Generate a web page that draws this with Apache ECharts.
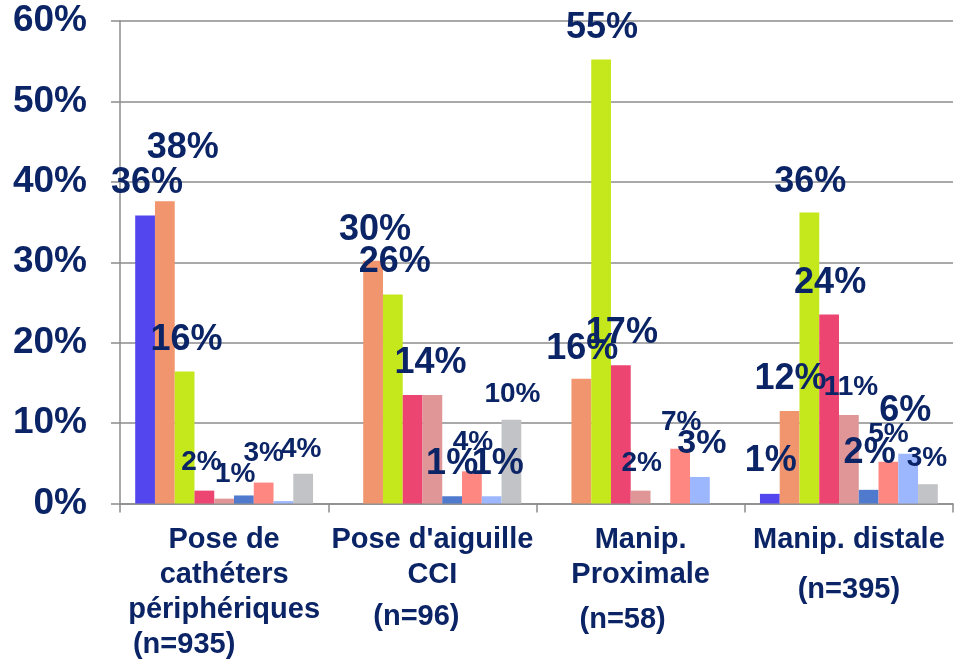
<!DOCTYPE html>
<html><head><meta charset="utf-8">
<script src="https://cdn.jsdelivr.net/npm/echarts@6/dist/echarts.min.js"></script>
<style>html,body{margin:0;padding:0;background:#fff}#c{width:963px;height:666px}</style>
</head><body><div id="c"></div>
<script>
const categories = ["Pose de cathéters périphériques", "Pose d'aiguille CCI", "Manip. Proximale", "Manip. distale"];
const sampleSizes = ["(n=935)", "(n=96)", "(n=58)", "(n=395)"];
const yTicks = [0, 10, 20, 30, 40, 50, 60];
// values (%) per series (9 series, one per bar colour), per category
const s1 = [35.8, 0, 0, 1.2];
const s2 = [37.6, 30.2, 15.5, 11.5];
const s3 = [16.4, 26.0, 55.2, 36.2];
const s4 = [1.6, 13.5, 17.2, 23.5];
const s5 = [0.6, 13.5, 1.6, 11.0];
const s6 = [1.0, 0.9, 0, 1.7];
const s7 = [2.6, 4.0, 6.8, 5.2];
const s8 = [0.3, 0.9, 3.3, 6.2];
const s9 = [3.7, 10.4, 0, 2.4];
// displayed data labels (null = no label shown)
const l1 = ["36%", null, null, "1%"];
const l2 = ["38%", "30%", "16%", "12%"];
const l3 = ["16%", "26%", "55%", "36%"];
const l4 = ["2%", "14%", "17%", "24%"];
const l5 = ["1%", null, "2%", "11%"];
const l6 = [null, "1%", null, "2%"];
const l7 = ["3%", "4%", "7%", "5%"];
const l8 = [null, "1%", "3%", "6%"];
const l9 = ["4%", "10%", null, "3%"];

const seriesValues = [s1, s2, s3, s4, s5, s6, s7, s8, s9];
const seriesLabels = [l1, l2, l3, l4, l5, l6, l7, l8, l9];
const colors = ['#5346EE', '#F0956E', '#C4E81C', '#EC4572', '#E09696', '#4F7ACD', '#FF8781', '#9DB7FF', '#C2C3C6'];
const navy = '#0B2466';
const FONT = '"Liberation Sans", Arial, sans-serif';

// label placement tweaks (layout only): key "series-category" -> [dx, dy, fontSize]
const labelTweak = {
  '0-0': [2, -33, 36], '1-0': [18, -53, 36], '2-0': [2, -32, 36], '3-0': [-3, -28, 28],
  '4-0': [11, -24, 28], '6-0': [0, -29, 28], '8-0': [-2, -24, 28],
  '1-1': [2, -31, 36], '2-1': [2, -32, 36], '3-1': [18, -32, 36], '5-1': [0, -32, 36],
  '6-1': [1, -29, 28], '7-1': [6, -32, 36], '8-1': [1, -26, 28],
  '2-2': [1, -32, 36], '1-2': [1, -30, 36], '3-2': [1, -32, 36], '4-2': [1, -27, 28],
  '6-2': [1, -27, 28], '7-2': [2, -33, 34],
  '0-3': [1, -33, 36], '1-3': [1, -32, 36], '2-3': [1, -30, 36], '3-3': [1, -31, 36],
  '4-3': [2, -28, 28], '5-3': [1, -37, 36], '6-3': [0, -27, 28], '7-3': [-3, -43, 36], '8-3': [-1, -26, 28]
};
const BAR_W = 19.78;

// category label styling: x shift of the sample-size line and its line height
const nShift = [-40, -16, -18, 0];
const nLineH = [35, 49, 55, 65];
const richStyles = {t: {fontFamily: FONT, fontWeight: 'bold', fontSize: 29, color: navy, lineHeight: 35}};
const catLines = [
  ["Pose de", "cathéters", "périphériques"],
  ["Pose d'aiguille", "CCI"],
  ["Manip.", "Proximale"],
  ["Manip. distale"]
];
catLines.forEach((_, i) => {
  const sh = nShift[i];
  richStyles['n' + i] = {fontFamily: FONT, fontWeight: 'bold', fontSize: 29, color: navy, lineHeight: nLineH[i],
    padding: sh < 0 ? [0, -2 * sh, 0, 0] : [0, 0, 0, 2 * sh]};
});

const chart = echarts.init(document.getElementById('c'), null, {renderer: 'canvas'});
const series = seriesValues.map((vals, si) => ({
  type: 'bar',
  data: vals.map((v, ci) => {
    const txt = seriesLabels[si][ci];
    const tw = labelTweak[si + '-' + ci] || [0, -30, 36];
    return {
      value: v,
      label: {show: txt !== null, formatter: txt || '',
        position: [(50 + tw[0] * 100 / BAR_W) + '%', tw[1]], fontSize: tw[2]}
    };
  }),
  barGap: '0%',
  barCategoryGap: '14.6%',
  itemStyle: {color: colors[si]},
  label: {align: 'center', verticalAlign: 'middle',
    color: navy, fontFamily: FONT, fontWeight: 'bold', fontSize: 36},
  labelLayout: {hideOverlap: false}
}));

chart.setOption({
  animation: false,
  grid: {left: 120, right: 10, top: 21, bottom: 162.5},
  xAxis: {
    type: 'category', data: categories,
    axisLine: {lineStyle: {color: '#8c8c8c', width: 1.5}},
    axisTick: {show: true, length: 9, lineStyle: {color: '#8c8c8c', width: 1.5}},
    axisLabel: {
      interval: 0, margin: 19, color: navy, fontFamily: FONT, fontWeight: 'bold', fontSize: 29, lineHeight: 35,
      formatter: (v, idx) => catLines[idx].map(s => '{t|' + s + '}').join('\n') + '\n{n' + idx + '|' + sampleSizes[idx] + '}',
      rich: richStyles
    }
  },
  yAxis: {
    type: 'value', min: 0, max: 60, interval: 10,
    axisLine: {show: true, lineStyle: {color: '#8c8c8c', width: 1.5}},
    axisTick: {show: true, length: 9, lineStyle: {color: '#8c8c8c', width: 1.5}},
    splitLine: {lineStyle: {color: '#8c8c8c', width: 1.5}},
    axisLabel: {margin: 33, color: navy, fontFamily: FONT, fontWeight: 'bold', fontSize: 37,
      formatter: (v) => yTicks.includes(v) ? v + '%' : ''}
  },
  series: series
});
</script></body></html>
